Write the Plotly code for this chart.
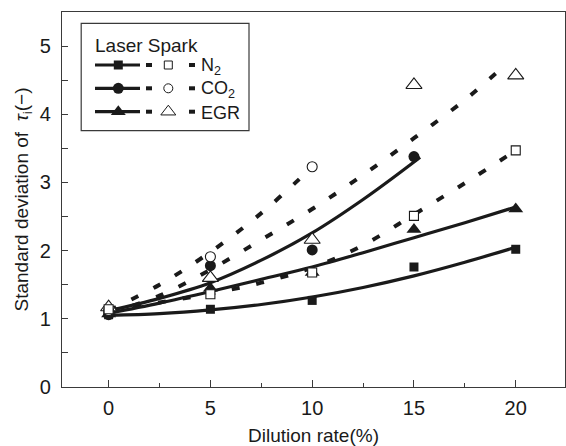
import plotly.graph_objects as go

# ---- measured points (filled = solid-line series, open = dashed-line series) ----
dilution = [0, 5, 10, 15, 20]
n2_filled = [1.06, 1.14, 1.27, 1.76, 2.02]
co2_filled_x = [0, 5, 10, 15]
co2_filled = [1.06, 1.78, 2.01, 3.38]
egr_filled = [1.07, 1.45, 1.68, 2.31, 2.61]

n2_open = [1.14, 1.36, 1.68, 2.51, 3.47]
co2_open_x = [0, 5, 10]
co2_open = [1.12, 1.91, 3.23]
egr_open = [1.17, 1.60, 2.16, 4.43, 4.57]

# ---- fitted trend curves ----
fit_x = [0, 2.5, 5, 7.5, 10, 12.5, 15, 17.5, 20]
n2_solid_fit = [1.05, 1.075, 1.13, 1.21, 1.32, 1.46, 1.63, 1.83, 2.05]
egr_solid_fit = [1.08, 1.23, 1.40, 1.58, 1.76, 1.97, 2.19, 2.41, 2.64]
co2_solid_fit_x = [0, 2.5, 5, 7.5, 10, 12.5, 15, 15.3]
co2_solid_fit = [1.12, 1.30, 1.53, 1.86, 2.26, 2.75, 3.30, 3.37]

n2_dash_fit_x = [0, 2.5, 5, 7.5, 10, 12.5, 15, 17.5, 19.8]
n2_dash_fit = [1.12, 1.24, 1.37, 1.53, 1.75, 2.08, 2.53, 2.99, 3.43]
co2_dash_fit_x = [0, 2.5, 5, 7.5, 9.8]
co2_dash_fit = [1.12, 1.50, 1.98, 2.55, 3.17]
egr_dash_fit_x = [0, 2.5, 5, 7.5, 10, 12.5, 15, 17.5, 19.4]
egr_dash_fit = [1.08, 1.34, 1.72, 2.16, 2.61, 3.11, 3.65, 4.21, 4.70]

x_ticks = [0, 5, 10, 15, 20]
y_ticks = [0, 1, 2, 3, 4, 5]
legend_labels = ["N<sub>2</sub>", "CO<sub>2</sub>", "EGR"]

INK = "#1a1a1a"
FRAME = "#3a3a3a"
FONT = "Liberation Sans, Arial, sans-serif"
SOLID_W = 3.2
DASH_W = 4
DASH = "8px,17px"

fig = go.Figure()


def curve(x, y, dashed):
    fig.add_trace(go.Scatter(
        x=x, y=y, mode="lines", showlegend=False, hoverinfo="skip",
        line=dict(color=INK, width=DASH_W if dashed else SOLID_W,
                  dash=DASH if dashed else "solid",
                  shape="spline", smoothing=1.0)))


curve(n2_dash_fit_x, n2_dash_fit, True)
curve(co2_dash_fit_x, co2_dash_fit, True)
curve(egr_dash_fit_x, egr_dash_fit, True)
curve(fit_x, n2_solid_fit, False)
curve(co2_solid_fit_x, co2_solid_fit, False)
curve(fit_x, egr_solid_fit, False)

FILLED = {"square": 9, "circle": 11, "triangle-up": 13}
OPEN = {"square-open": 9, "circle-open": 10, "triangle-up-open": 14}


def filled(x, y, sym):
    fig.add_trace(go.Scatter(
        x=x, y=y, mode="markers", showlegend=False,
        marker=dict(symbol=sym, size=FILLED[sym], color=INK,
                    line=dict(width=0))))


def hollow(x, y, sym):
    base = sym.replace("-open", "")
    fig.add_trace(go.Scatter(
        x=x, y=y, mode="markers", showlegend=False,
        marker=dict(symbol=base, size=OPEN[sym], color="white",
                    line=dict(width=1.1, color=INK))))


filled(dilution, egr_filled, "triangle-up")
filled(co2_filled_x, co2_filled, "circle")
filled(dilution, n2_filled, "square")
hollow(dilution, egr_open, "triangle-up-open")
hollow(co2_open_x, co2_open, "circle-open")
hollow(dilution, n2_open, "square-open")

# ---- legend drawn on an overlay axis measured in figure pixels ----
L, R, T, B = 62, 565, 12, 387
row_y = [65, 88.3, 111.7]
leg_filled = ["square", "circle", "triangle-up"]
leg_open = ["square-open", "circle-open", "triangle-up-open"]

for ry, fs, os_, lab in zip(row_y, leg_filled, leg_open, legend_labels):
    fig.add_trace(go.Scatter(
        x=[95, 140], y=[ry, ry], xaxis="x2", yaxis="y2", mode="lines",
        showlegend=False, hoverinfo="skip",
        line=dict(color=INK, width=SOLID_W)))
    fig.add_trace(go.Scatter(
        x=[146, 152, None, 189, 195], y=[ry, ry, None, ry, ry],
        xaxis="x2", yaxis="y2", mode="lines", showlegend=False,
        hoverinfo="skip", line=dict(color=INK, width=DASH_W)))
    fig.add_trace(go.Scatter(
        x=[118.3], y=[ry], xaxis="x2", yaxis="y2", mode="markers",
        showlegend=False, hoverinfo="skip",
        marker=dict(symbol=fs, size=FILLED[fs], color=INK, line=dict(width=0))))
    fig.add_trace(go.Scatter(
        x=[168.3], y=[ry], xaxis="x2", yaxis="y2", mode="markers",
        showlegend=False, hoverinfo="skip",
        marker=dict(symbol=os_.replace("-open", ""), size=OPEN[os_] - 1,
                    color="white", line=dict(width=1, color=INK))))
    fig.add_annotation(x=199, y=ry + 1, xref="x2", yref="y2", text=lab,
                       showarrow=False, xanchor="left", yanchor="middle",
                       font=dict(family=FONT, size=18, color=INK))

fig.add_annotation(x=93, y=45, xref="x2", yref="y2", text="Laser Spark",
                   showarrow=False, xanchor="left", yanchor="middle",
                   font=dict(family=FONT, size=19, color=INK))
fig.add_shape(type="rect", xref="x2", yref="y2", x0=81.2, x1=249,
              y0=23.3, y1=130.7, line=dict(color=FRAME, width=1.2),
              fillcolor="rgba(0,0,0,0)", layer="below")

fig.update_layout(
    width=566, height=446,
    margin=dict(l=L, r=566 - R, t=T, b=446 - B),
    paper_bgcolor="white", plot_bgcolor="white",
    font=dict(family=FONT, color=INK),
    xaxis=dict(
        range=[-2.29, 22.42], tickvals=x_ticks, ticks="inside", ticklen=7,
        tickwidth=1.2, tickcolor=FRAME, showline=True, linecolor=FRAME,
        linewidth=1.3, mirror=True, showgrid=False, zeroline=False,
        tickfont=dict(size=20, color=INK), ticklabelstandoff=3,
        minor=dict(dtick=2.5, tick0=0, ticks="inside", ticklen=4,
                   tickwidth=1.2, tickcolor=FRAME, showgrid=False),
        title=dict(text="Dilution rate(%)", font=dict(size=19, color=INK),
                   standoff=10),
    ),
    yaxis=dict(
        range=[0, 5.5], tickvals=y_ticks, ticks="inside", ticklen=6,
        tickwidth=1.2, tickcolor=FRAME, showline=True, linecolor=FRAME,
        linewidth=1.3, mirror=True, showgrid=False, zeroline=False,
        tickfont=dict(size=20, color=INK), ticklabelstandoff=6,
        minor=dict(dtick=0.5, tick0=0, ticks="inside", ticklen=6,
                   tickwidth=1.2, tickcolor=FRAME, showgrid=False),
        title=dict(text="Standard deviation of  <i>τ</i><sub>i</sub>(−)",
                   font=dict(size=19, color=INK), standoff=6),
    ),
    xaxis2=dict(overlaying="x", range=[L, R], visible=False, fixedrange=True),
    yaxis2=dict(overlaying="y", range=[B, T], visible=False, fixedrange=True),
)

fig.write_html("out.html")
